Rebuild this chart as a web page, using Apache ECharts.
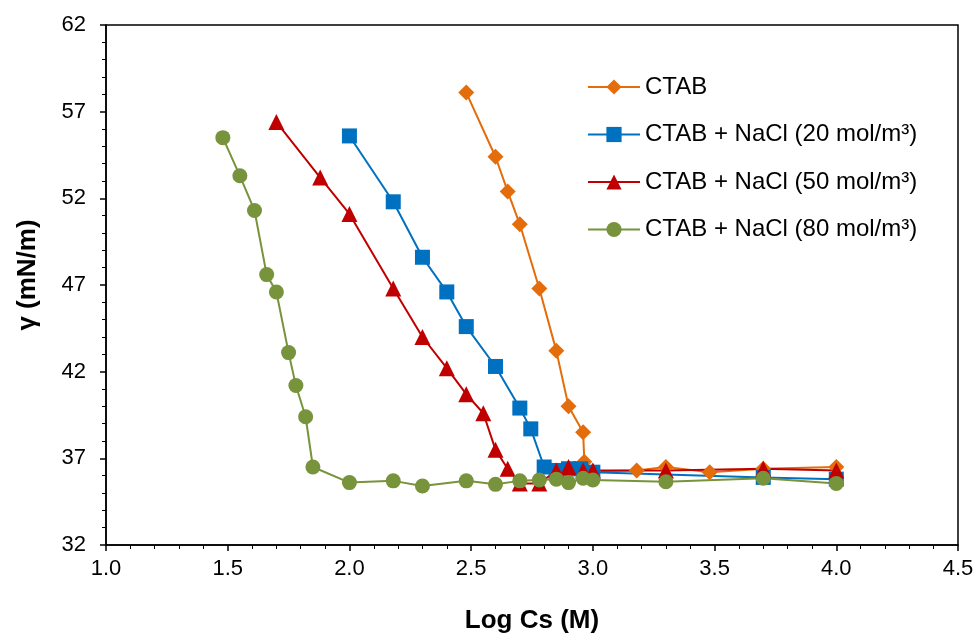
<!DOCTYPE html>
<html>
<head>
<meta charset="utf-8">
<script src="https://cdn.jsdelivr.net/npm/echarts@6/dist/echarts.min.js"></script>
<style>html,body{margin:0;padding:0;background:#fff;}#c{width:979px;height:639px;}</style>
</head>
<body>
<div id="c"></div>
<script>
var seriesNames = ['CTAB', 'CTAB + NaCl (20 mol/m³)', 'CTAB + NaCl (50 mol/m³)', 'CTAB + NaCl (80 mol/m³)'];

var ctabX = [2.48, 2.60, 2.65, 2.70, 2.78, 2.85, 2.90, 2.96, 2.965, 3.00, 3.18, 3.30, 3.48, 3.70, 4.00];
var ctabY = [58.1, 54.4, 52.4, 50.5, 46.8, 43.2, 40.0, 38.5, 36.8, 36.25, 36.3, 36.5, 36.2, 36.4, 36.5];

var nacl20X = [2.00, 2.18, 2.30, 2.40, 2.48, 2.60, 2.70, 2.745, 2.80, 2.85, 2.90, 2.95, 3.00, 3.70, 4.00];
var nacl20Y = [55.6, 51.8, 48.6, 46.6, 44.6, 42.3, 39.9, 38.7, 36.5, 36.3, 36.4, 36.4, 36.2, 35.9, 35.8];

var nacl50X = [1.70, 1.88, 2.00, 2.18, 2.30, 2.40, 2.48, 2.55, 2.60, 2.65, 2.70, 2.78, 2.85, 2.90, 2.96, 3.00, 3.30, 3.70, 4.00];
var nacl50Y = [56.4, 53.2, 51.1, 46.8, 44.0, 42.2, 40.7, 39.6, 37.5, 36.4, 35.55, 35.55, 36.3, 36.5, 36.3, 36.3, 36.3, 36.4, 36.3];

var nacl80X = [1.48, 1.55, 1.61, 1.66, 1.70, 1.75, 1.78, 1.82, 1.85, 2.00, 2.18, 2.30, 2.48, 2.60, 2.70, 2.78, 2.85, 2.90, 2.96, 3.00, 3.30, 3.70, 4.00];
var nacl80Y = [55.5, 53.3, 51.3, 47.6, 46.6, 43.1, 41.2, 39.4, 36.5, 35.6, 35.7, 35.4, 35.7, 35.5, 35.7, 35.75, 35.8, 35.6, 35.85, 35.75, 35.65, 35.85, 35.55];

var colors = ['#E46C0A', '#0070C0', '#C00000', '#77933C'];
var symbols = ['diamond', 'rect', 'triangle', 'circle'];
var symbolSizes = [16, 15, 16, 15];

function pairs(xs, ys) { return xs.map(function (x, i) { return [x, ys[i]]; }); }
var allData = [pairs(ctabX, ctabY), pairs(nacl20X, nacl20Y), pairs(nacl50X, nacl50Y), pairs(nacl80X, nacl80Y)];

var FONT = '"Liberation Sans", Arial, sans-serif';

var chart = echarts.init(document.getElementById('c'), null, { renderer: 'canvas' });
chart.setOption({
  backgroundColor: '#fff',
  animation: false,
  grid: { left: 106, right: 21, top: 25, bottom: 93, show: true, borderColor: '#000', borderWidth: 1.5, backgroundColor: 'transparent' },
  legend: {
    orient: 'vertical', left: 587, top: 73, padding: 0,
    itemWidth: 52, itemHeight: 19, itemGap: 19.5,
    textStyle: { fontFamily: FONT, fontSize: 24, color: '#000', lineHeight: 28 },
    data: seriesNames
  },
  xAxis: {
    type: 'value', min: 1.0, max: 4.5, interval: 0.5,
    name: 'Log Cs (M)', nameLocation: 'middle', nameGap: 63,
    nameTextStyle: { fontFamily: FONT, fontSize: 26, fontWeight: 'bold', color: '#000' },
    axisLine: { show: true, lineStyle: { color: '#000', width: 1.5 } },
    axisTick: { show: true, inside: false, length: 6, lineStyle: { color: '#000', width: 1.5 } },
    minorTick: { show: true, splitNumber: 5, length: 4, lineStyle: { color: '#000', width: 1 } },
    splitLine: { show: false },
    axisLabel: { fontFamily: FONT, fontSize: 22, color: '#000', margin: 13, formatter: function (v) { return v.toFixed(1); } }
  },
  yAxis: {
    type: 'value', min: 32, max: 62, interval: 5,
    name: 'γ (mN/m)', nameLocation: 'middle', nameGap: 65, nameRotate: 90,
    nameTextStyle: { fontFamily: FONT, fontSize: 26, fontWeight: 'bold', color: '#000', padding: [0, 0, 0, 20] },
    axisLine: { show: true, lineStyle: { color: '#000', width: 1.5 } },
    axisTick: { show: true, inside: false, length: 6, lineStyle: { color: '#000', width: 1.5 } },
    minorTick: { show: true, splitNumber: 5, length: 4, lineStyle: { color: '#000', width: 1 } },
    splitLine: { show: false },
    axisLabel: { fontFamily: FONT, fontSize: 22, color: '#000', margin: 20 }
  },
  series: seriesNames.map(function (n, i) {
    return {
      name: n, type: 'line', data: allData[i],
      symbol: symbols[i], symbolSize: symbolSizes[i], showAllSymbol: true,
      itemStyle: { color: colors[i] },
      lineStyle: { color: colors[i], width: 2 },
      emphasis: { disabled: true }
    };
  })
});
</script>
</body>
</html>
